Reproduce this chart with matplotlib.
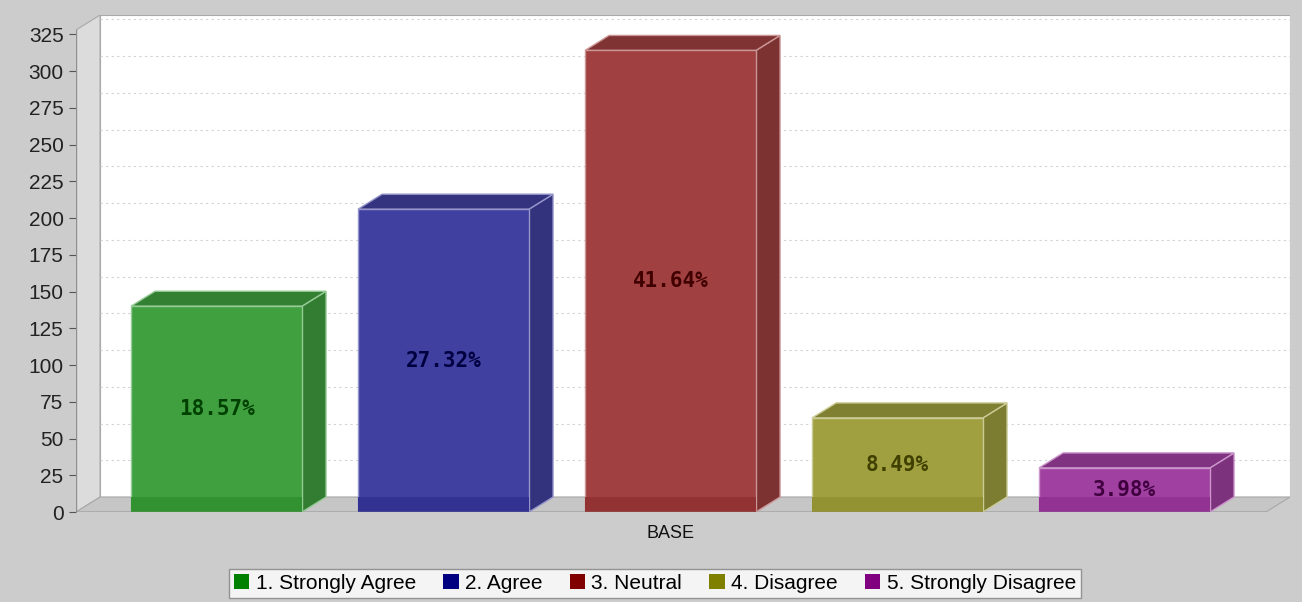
import numpy as np
import matplotlib
matplotlib.use("Agg")
import matplotlib.pyplot as plt
from matplotlib.patches import Polygon, Rectangle, Patch

# =============================================================================
# DATOS
# =============================================================================

categorias = ["1. Strongly Agree", "2. Agree", "3. Neutral", "4. Disagree", "5. Strongly Disagree"]
valores = [140, 206, 314, 64, 30]
porcentajes = ["18.57%", "27.32%", "41.64%", "8.49%", "3.98%"]
colores_base = ["#008000", "#000080", "#800000", "#808000", "#800080"]
eje_x = "BASE"
ticks_y = list(range(0, 326, 25))

# =============================================================================
# ESTILO / GEOMETRIA
# =============================================================================

FONDO = "#cccccc"
PARED = "#dcdcdc"
SUELO = "#c6c6c6"
BORDE = "#a8a8a8"
ANCHO = 0.753
DX = 0.106          # profundidad 3D en unidades de categoria
DY = 10.2           # profundidad 3D en unidades de valor
X0, X1 = -0.619, 4.729
Y_TOP = 338.1
ALPHA = 0.75


def mezcla(c, fondo=(1, 1, 1), a=ALPHA):
    rgb = np.array(matplotlib.colors.to_rgb(c))
    return tuple(a * rgb + (1 - a) * np.array(fondo))


def oscurecer(c, f):
    return tuple(np.clip(np.array(c) * f, 0, 1))


def aclarar(c, f):
    c = np.array(c)
    return tuple(c + (1 - c) * f)


fig = plt.figure(figsize=(13.02, 6.02), dpi=100, facecolor=FONDO)
ax = fig.add_axes([76 / 1302, 90 / 602, (1290 - 76) / 1302, 497 / 602])
ax.set_facecolor("none")
ax.set_xlim(X0, X1)
ax.set_ylim(0, Y_TOP)
for s in ax.spines.values():
    s.set_visible(False)

# pared del fondo
ax.add_patch(Rectangle((X0 + DX, DY), X1 - X0 - DX, Y_TOP - DY, facecolor="white",
                       edgecolor=BORDE, lw=0.8, zorder=0))
# pared izquierda
ax.add_patch(Polygon([(X0, 0), (X0 + DX, DY), (X0 + DX, Y_TOP), (X0, Y_TOP - DY)],
                     closed=True, facecolor=PARED, edgecolor=BORDE, lw=0.8, zorder=0.5))
# suelo
ax.add_patch(Polygon([(X0, 0), (X1 - DX, 0), (X1, DY), (X0 + DX, DY)],
                     closed=True, facecolor=SUELO, edgecolor=BORDE, lw=0.8, zorder=0.5))

# rejilla
for v in ticks_y[1:]:
    ax.plot([X0 + DX, X1], [v + DY, v + DY], color="#d2d2d2", lw=0.8,
            ls=(0, (2, 3)), zorder=1)

# barras 3D
for i, (v, c, p) in enumerate(zip(valores, colores_base, porcentajes)):
    frente = mezcla(c)
    arriba = oscurecer(frente, 0.8)
    lado = oscurecer(frente, 0.78)
    linea = aclarar(frente, 0.45)
    xl, xr = i - ANCHO / 2, i + ANCHO / 2
    ax.add_patch(Polygon([(xr, 0), (xr + DX, DY), (xr + DX, v + DY), (xr, v)],
                         closed=True, facecolor=lado, edgecolor=linea, lw=1.0, zorder=3))
    ax.add_patch(Polygon([(xl, v), (xr, v), (xr + DX, v + DY), (xl + DX, v + DY)],
                         closed=True, facecolor=arriba, edgecolor=linea, lw=1.0, zorder=3))
    ax.add_patch(Rectangle((xl, 0), ANCHO, v, facecolor=frente, edgecolor=linea,
                           lw=1.0, zorder=4))
    # banda inferior sobre el suelo (transparencia)
    ax.add_patch(Rectangle((xl, 0), ANCHO, DY, facecolor=mezcla(c, fondo=(0.78, 0.78, 0.78)),
                           edgecolor="none", zorder=4.1))
    ax.text(i, v / 2, p, ha="center", va="center", fontsize=15, fontweight="bold",
            family="DejaVu Sans Mono", color=oscurecer(matplotlib.colors.to_rgb(c), 0.5),
            zorder=5)

# linea frontal del suelo
ax.plot([X0, X1 - DX], [0, 0], color="#909090", lw=1.0, zorder=6)
ax.plot([X0, X0], [0, Y_TOP - DY], color="#909090", lw=1.0, zorder=6)

ax.set_yticks(ticks_y)
ax.set_yticklabels([str(t) for t in ticks_y])
ax.set_xticks([])
ax.tick_params(axis="y", length=5, width=0.8, color="#555555", pad=4,
               labelsize=15, labelcolor="#222222")
for lab in ax.get_yticklabels():
    lab.set_family("Liberation Sans")

ax.annotate(eje_x, xy=(2, 0), xycoords=("data", "axes fraction"), xytext=(0, -22),
            textcoords="offset pixels", ha="center", va="center", fontsize=13,
            family="Liberation Sans", color="#111111")

# leyenda
handles = [Patch(facecolor=c, edgecolor="none") for c in colores_base]
leg = fig.legend(handles, categorias, loc="lower center", bbox_to_anchor=(0.503, 4 / 602),
                 borderaxespad=0, ncol=5, frameon=True, fancybox=False, edgecolor="#808080",
                 facecolor="white", handlelength=0.75, handleheight=0.75,
                 handletextpad=0.3, columnspacing=1.3, borderpad=0.25,
                 prop={"family": "Liberation Sans", "size": 15})
leg.get_frame().set_linewidth(1.0)

fig.savefig("out.png", dpi=100, facecolor=FONDO)
